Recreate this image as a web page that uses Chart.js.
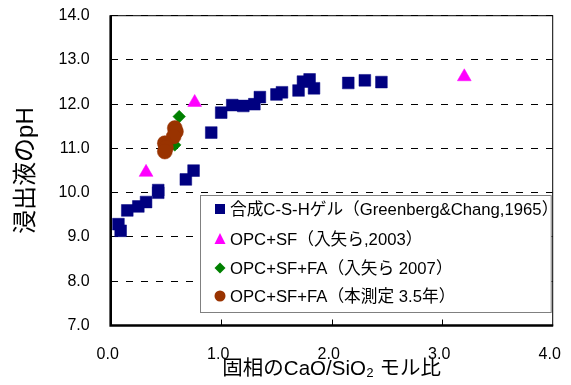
<!DOCTYPE html>
<html>
<head>
<meta charset="utf-8">
<script src="https://cdn.jsdelivr.net/npm/chart.js@4/dist/chart.umd.min.js"></script>
<style>
  html, body { margin: 0; padding: 0; background: #fff; }
  canvas { display: block; }
</style>
</head>
<body>
<canvas id="chart" width="571" height="385"></canvas>
<script>
// Series labels (legend order)
const seriesLabels = [
  '合成C-S-Hゲル（Greenberg&Chang,1965）',
  'OPC+SF（入矢ら,2003）',
  'OPC+SF+FA（入矢ら 2007）',
  'OPC+SF+FA（本測定 3.5年）'
];

// Synthetic C-S-H gel: CaO/SiO2 molar ratio vs pH
const gelRatio = [0.07, 0.09, 0.15, 0.25, 0.32, 0.43, 0.43, 0.68, 0.75, 0.91, 1.00, 1.10, 1.20, 1.30, 1.35, 1.50, 1.55, 1.70, 1.74, 1.80, 1.84, 2.15, 2.30, 2.45];
const gelPH    = [9.29, 9.14, 9.60, 9.69, 9.79, 10.00, 10.06, 10.30, 10.50, 11.36, 11.81, 11.98, 11.96, 12.00, 12.16, 12.22, 12.27, 12.31, 12.51, 12.56, 12.36, 12.48, 12.54, 12.50];

// OPC+SF (2003)
const sfRatio = [0.32, 0.76, 3.20];
const sfPH    = [10.46, 12.04, 12.62];

// OPC+SF+FA (2007)
const sfFa07Ratio = [0.62, 0.58];
const sfFa07PH    = [11.72, 11.08];

// OPC+SF+FA (this measurement, 3.5 years)
const sfFaNowRatio = [0.58, 0.59, 0.57, 0.49, 0.50, 0.49];
const sfFaNowPH    = [11.46, 11.38, 11.27, 11.12, 11.02, 10.93];

// Axis ticks
const xTicks = [0, 1, 2, 3, 4];
const yTicks = [7, 8, 9, 10, 11, 12, 13, 14];

const FONT = '"Liberation Sans", "Noto Sans CJK JP", sans-serif';
const COLORS = ['#000080', '#FF00FF', '#008000', '#993300'];
const STYLES = ['rect', 'triangle', 'rectRot', 'circle'];

const toPoints = (xs, ys) => xs.map((v, i) => ({ x: v, y: ys[i] }));

// Plot frame: thin top/right, heavy left/bottom, inward x tick marks
const framePlugin = {
  id: 'frame',
  beforeDatasetsDraw(chart) {
    const { ctx, chartArea: a, scales: { x } } = chart;
    ctx.save();
    ctx.strokeStyle = '#000';
    ctx.lineWidth = 1;
    ctx.strokeRect(a.left, a.top, a.right - a.left, a.bottom - a.top);
    ctx.lineWidth = 2.6;
    ctx.beginPath();
    ctx.moveTo(a.left, a.top - 0.5);
    ctx.lineTo(a.left, a.bottom);
    ctx.lineTo(a.right + 0.5, a.bottom);
    ctx.stroke();
    ctx.lineWidth = 1;
    x.ticks.forEach(t => {
      if (t.value <= x.min || t.value >= x.max) return;
      const px = Math.round(x.getPixelForValue(t.value)) + 0.5;
      ctx.beginPath();
      ctx.moveTo(px, a.bottom);
      ctx.lineTo(px, a.bottom - 6);
      ctx.stroke();
    });
    ctx.restore();
  }
};

// Boxed legend inside the plot area
function drawMarker(ctx, style, color, cx, cy) {
  ctx.fillStyle = color;
  ctx.beginPath();
  if (style === 'rect') {
    ctx.rect(cx - 5, cy - 5, 10, 10);
  } else if (style === 'triangle') {
    ctx.moveTo(cx, cy - 6);
    ctx.lineTo(cx + 5.5, cy + 5);
    ctx.lineTo(cx - 5.5, cy + 5);
    ctx.closePath();
  } else if (style === 'rectRot') {
    ctx.moveTo(cx, cy - 5.5);
    ctx.lineTo(cx + 5.5, cy);
    ctx.lineTo(cx, cy + 5.5);
    ctx.lineTo(cx - 5.5, cy);
    ctx.closePath();
  } else {
    ctx.arc(cx, cy, 5.5, 0, Math.PI * 2);
  }
  ctx.fill();
}

const legendPlugin = {
  id: 'boxLegend',
  afterDatasetsDraw(chart) {
    const { ctx, chartArea: a } = chart;
    const left = 200.5, top = 195.5, right = a.right - 1.5, bottom = 312.5;
    ctx.save();
    ctx.fillStyle = '#fff';
    ctx.fillRect(left, top, right - left, bottom - top);
    ctx.strokeStyle = '#808080';
    ctx.lineWidth = 1;
    ctx.strokeRect(left, top, right - left, bottom - top);
    const rows = [209, 239, 268, 296];
    ctx.font = '16.7px ' + FONT;
    ctx.textBaseline = 'middle';
    ctx.textAlign = 'left';
    chart.data.datasets.forEach((ds, i) => {
      drawMarker(ctx, STYLES[i], COLORS[i], 220, rows[i]);
      ctx.fillStyle = '#000';
      ctx.fillText(ds.label, 230, rows[i] + 1);
    });
    ctx.restore();
  }
};

const datasetDefs = [
  { data: toPoints(gelRatio, gelPH), radius: 8.3, order: 4 },
  { data: toPoints(sfRatio, sfPH), radius: 8, order: 3 },
  { data: toPoints(sfFa07Ratio, sfFa07PH), radius: 6.3, order: 2 },
  { data: toPoints(sfFaNowRatio, sfFaNowPH), radius: 7.5, order: 1 }
];

new Chart(document.getElementById('chart'), {
  type: 'scatter',
  data: {
    datasets: datasetDefs.map((d, i) => ({
      label: seriesLabels[i],
      data: d.data,
      order: d.order,
      pointStyle: STYLES[i],
      pointRadius: d.radius,
      pointHoverRadius: d.radius,
      backgroundColor: COLORS[i],
      borderColor: COLORS[i],
      borderWidth: 0.5
    }))
  },
  options: {
    responsive: false,
    animation: false,
    events: [],
    layout: { padding: { top: 15.7, right: 18.3, left: 0, bottom: 0 } },
    plugins: { legend: { display: false }, tooltip: { enabled: false } },
    scales: {
      x: {
        type: 'linear',
        min: xTicks[0],
        max: xTicks[xTicks.length - 1],
        afterBuildTicks: s => { s.ticks = xTicks.map(v => ({ value: v })); },
        afterFit: s => { s.height = 59.5; s.paddingLeft = 0; s.paddingRight = 0; },
        ticks: {
          autoSkip: false,
          maxRotation: 0,
          padding: 19,
          labelOffset: -3,
          color: '#000',
          font: { family: FONT, size: 16 },
          callback: v => Number(v).toFixed(1)
        },
        grid: { display: false, drawTicks: false },
        border: { display: false },
        title: {
          display: true,
          text: '固相のCaO/SiO₂ モル比',
          color: '#000',
          font: { family: FONT, size: 20.5 },
          padding: { top: 0, bottom: 3 }
        }
      },
      y: {
        min: yTicks[0],
        max: yTicks[yTicks.length - 1],
        afterBuildTicks: s => { s.ticks = yTicks.map(v => ({ value: v })); },
        afterFit: s => { s.width = 110.7; s.paddingTop = 0; s.paddingBottom = 0; },
        ticks: {
          autoSkip: false,
          padding: 21,
          color: '#000',
          font: { family: FONT, size: 16 },
          callback: v => Number(v).toFixed(1)
        },
        grid: { color: '#000', lineWidth: 1, drawTicks: false },
        border: { display: false, dash: [7, 8] },
        title: {
          display: true,
          text: '浸出液のpH',
          color: '#000',
          font: { family: FONT, size: 24 },
          padding: { top: 12, bottom: 0 }
        }
      }
    }
  },
  plugins: [framePlugin, legendPlugin]
});
</script>
</body>
</html>
